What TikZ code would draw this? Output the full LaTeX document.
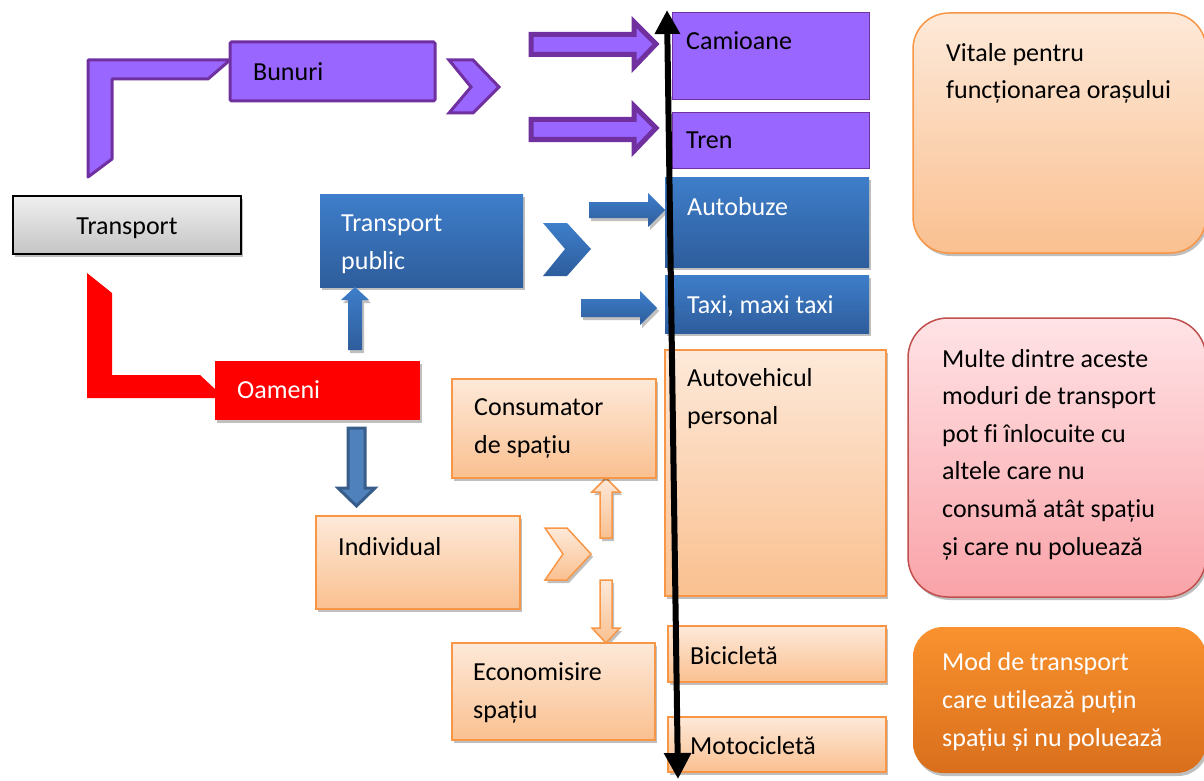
\documentclass[tikz,border=0pt]{standalone}
\usepackage{fontspec}
\setmainfont{Carlito}[Ligatures=NoCommon]
\usetikzlibrary{shadows,arrows.meta}
\definecolor{purp}{HTML}{9966FF}
\definecolor{purpd}{HTML}{7030A0}
\definecolor{bluet}{RGB}{62,126,202}
\definecolor{blueb}{RGB}{46,93,156}
\definecolor{orl}{HTML}{FDE9D9}
\definecolor{orb}{HTML}{FAC090}
\definecolor{ord}{HTML}{F79646}
\definecolor{pinkt}{HTML}{FFE3E6}
\definecolor{pinkb}{HTML}{F9A3A8}
\definecolor{pinkd}{HTML}{C0504D}
\definecolor{modt}{HTML}{F9922E}
\definecolor{modb}{HTML}{D96F1C}
\definecolor{dblue}{HTML}{385D8A}
\definecolor{mblue}{HTML}{4F81BD}
\tikzset{
 lbl/.style={font=\fontsize{26}{37.6}\selectfont, inner sep=0pt, anchor=base west, align=left},
 shad/.style={drop shadow={shadow xshift=2pt, shadow yshift=-3pt, opacity=0.25, fill=black}},
 purpbox/.style={fill=purp, draw=purpd, line width=1},
 bluebox/.style={top color=bluet, bottom color=blueb, shad},
 orbox/.style={top color=orl, bottom color=orb, draw=ord, line width=1.5, shad},
 purparrow/.style={fill=purp, draw=purpd, line width=5, line join=miter},
}
\begin{document}
\begin{tikzpicture}[x=1pt,y=-1pt]
\useasboundingbox (0,0) rectangle (1204,781);
\clip (0,0) rectangle (1204,781);
\fill[white] (0,0) rectangle (1204,781);

% Transport
\path[top color=black!6, bottom color=black!23, draw=black, line width=1.5, shad] (13,196) rectangle (241,254);
\node[lbl, anchor=base] (transport) at (127,234) {Transport};

% purple bent connector
\path[fill=purp, draw=purpd, line width=3, line join=round] (88,177) -- (112,159) -- (112,79) -- (208,79) -- (230,60) -- (88,60) -- cycle;
% Bunuri
\path[fill=purp, draw=purpd, line width=3, rounded corners=1.5] (230,42) rectangle (435,101);
\node[lbl] (bunuri) at (253,81) {Bunuri};
% purple chevron
\path[fill=purp, draw=purpd, line width=3] (449,60) -- (473,60) -- (499,87) -- (473,113) -- (449,113) -- (471,87) -- cycle;
% purple block arrows
\path[purparrow] (531,34.5) -- (634,34.5) -- (634,22) -- (656,44) -- (634,67) -- (634,54.5) -- (531,54.5) -- cycle;
\path[purparrow] (531,119.5) -- (634,119.5) -- (634,106) -- (656,128) -- (634,151) -- (634,139.5) -- (531,139.5) -- cycle;

% Camioane, Tren
\path[purpbox] (672,13) rectangle (869,100);
\node[lbl] (camioane) at (686,50) {Camioane};
\path[purpbox] (672,113) rectangle (869,168);
\node[lbl] (tren) at (686,149) {Tren};

% Transport public
\path[bluebox] (320,194) rectangle (523,287);
\node[lbl, text=white] (tpublic) at (341,269) {Transport\\public};
% blue chevron
\path[top color=bluet, bottom color=blueb] (543,223) -- (567,223) -- (591,249) -- (567,276) -- (543,276) -- (565,249) -- cycle;
% blue block arrows
\path[top color=bluet, bottom color=blueb, shad] (589,202) -- (648,202) -- (648,193) -- (665,210) -- (648,227) -- (648,218) -- (589,218) -- cycle;
\path[top color=bluet, bottom color=blueb, shad] (581,299) -- (640,299) -- (640,291) -- (657,308) -- (640,325) -- (640,317) -- (581,317) -- cycle;

% Autobuze, Taxi
\path[bluebox] (665,177) rectangle (869,267);
\node[lbl, text=white] (autobuze) at (687,215) {Autobuze};
\path[bluebox] (665,275) rectangle (869,333);
\node[lbl, text=white] (taxi) at (687,313) {Taxi, maxi taxi};

% red bent connector
\fill[red] (87,273) -- (112,293) -- (112,375) -- (200,375) -- (216,390) -- (216,398) -- (87,398) -- cycle;
% Oameni
\path[fill=red, shad] (215,361) rectangle (420,420);
\node[lbl, text=white] (oameni) at (237,398) {Oameni};

% blue up arrow
\path[top color=bluet, bottom color=blueb, shad] (348,350) -- (348,300) -- (341,300) -- (355,287) -- (369,300) -- (362,300) -- (362,350) -- cycle;
% blue down arrow
\path[fill=mblue, draw=dblue, line width=3, line join=miter] (348,428) -- (365,428) -- (365,488) -- (375,488) -- (356.5,506) -- (338,488) -- (348,488) -- cycle;

% Individual
\path[orbox] (316,516) rectangle (520,609);
\node[lbl] (individual) at (338,555) {Individual};
% orange chevron
\path[top color=orl, bottom color=orb, draw=ord, line width=1.5, shad] (545,528) -- (567,528) -- (591,554) -- (567,580) -- (545,580) -- (563,554) -- cycle;
% orange up / down arrows
\path[top color=orl, bottom color=orb, draw=ord, line width=1.5, shad] (600,538) -- (600,492) -- (592,492) -- (606,478) -- (620,492) -- (612,492) -- (612,538) -- cycle;
\path[top color=orl, bottom color=orb, draw=ord, line width=1.5, shad] (600,580) -- (612,580) -- (612,628) -- (620,628) -- (606,643) -- (592,628) -- (600,628) -- cycle;

% Consumator, Economisire
\path[orbox] (452,379) rectangle (656,478);
\node[lbl] (consum) at (474,453) {Consumator\\de spațiu};
\path[orbox] (452,643) rectangle (655,740);
\node[lbl] (econ) at (473,718) {Economisire\\spațiu};

% Autovehicul, Bicicleta, Motocicleta
\path[orbox] (665,350) rectangle (886,596);
\node[lbl] (auto) at (687,424) {Autovehicul\\personal};
\path[orbox] (668,626) rectangle (886,682);
\node[lbl] (bici) at (690,664) {Bicicletă};
\path[orbox] (668,717) rectangle (886,772);
\node[lbl] (moto) at (690,754) {Motocicletă};

% vertical double arrow
\coordinate (vtop) at (667,10);
\coordinate (vbot) at (678,779);
\draw[line width=6, {Triangle[length=24pt,width=24pt]}-{Triangle[length=26pt,width=26pt]}] (vtop) -- (vbot);

% right-hand notes
\path[top color=orl, bottom color=orb, draw=ord, line width=1.5, rounded corners=36, shad] (913,13) rectangle (1206,253);
\node[lbl] (vitale) at (946,99) {Vitale pentru\\funcționarea orașului};
\path[top color=pinkt, bottom color=pinkb, draw=pinkd, line width=1.5, rounded corners=40, shad] (908,318) rectangle (1206,597);
\node[lbl] (multe) at (942,555) {Multe dintre aceste\\moduri de transport\\pot fi înlocuite cu\\altele care nu\\consumă atât spațiu\\și care nu poluează};
\path[top color=modt, bottom color=modb, rounded corners=30, shad] (913,627) rectangle (1206,773);
\node[lbl, text=white] (mod) at (942,746) {Mod de transport\\care utilează puțin\\spațiu și nu poluează};
\end{tikzpicture}
\end{document}
